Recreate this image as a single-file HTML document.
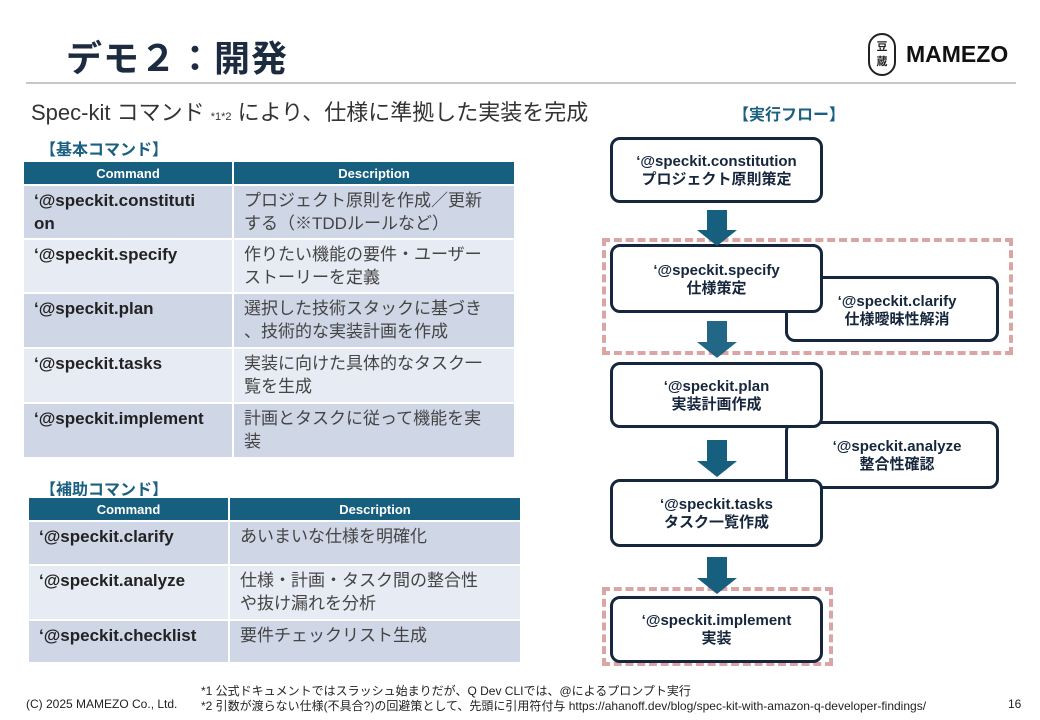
<!DOCTYPE html>
<html><head><meta charset="utf-8"><style>
*{margin:0;padding:0;box-sizing:border-box}
body{width:1040px;height:720px;background:#fff;position:relative;overflow:hidden;font-family:"Liberation Sans","Noto Sans CJK JP",sans-serif;color:#222}
.a{position:absolute}
.title{left:66px;top:30px;font-size:36px;font-weight:bold;color:#1c2b40;letter-spacing:1px}
.hr{left:26px;top:82px;width:990px;height:2px;background:#c8c8c8}
.sub{left:31px;top:95px;font-size:22px;color:#333}
.sec{font-size:16px;font-weight:bold;color:#1a6080}
table{position:absolute;border-collapse:collapse;font-size:17px}
th{background:#175f7f;color:#fff;font-size:13px;font-weight:bold;height:24px;border:2px solid #fff}
td{border:2px solid #fff;vertical-align:top;padding:3px 8px 0 10px;line-height:23px}
td.c{font-weight:bold;color:#222}
td.d{color:#444;padding-right:2px;white-space:nowrap}
tr.o td{background:#cfd6e6}
tr.e td{background:#e7ebf3}
.box{position:absolute;border:3px solid #16263c;border-radius:10px;background:#fff;text-align:center;font-size:15px;font-weight:bold;color:#16263c;line-height:18px}
.dash{position:absolute;border:4px dashed #dca5a5}
.ft{font-size:12px;color:#222}
</style></head><body>
<div class="a title">デモ２：開発</div>
<div class="a" style="left:868px;top:33px;width:28px;height:43px;border:2px solid #222;border-radius:14px;font-size:11px;font-weight:bold;line-height:15px;text-align:center;padding-top:5px">豆<br>蔵</div>
<div class="a" style="left:906px;top:41px;font-size:23px;font-weight:bold;color:#111">MAMEZO</div>
<div class="a hr"></div>
<div class="a sub">Spec-kit コマンド <span style="font-size:11px">*1*2</span> により、仕様に準拠した実装を完成</div>
<div class="a sec" style="left:733px;top:101px">【実行フロー】</div>
<div class="a sec" style="left:40px;top:136px">【基本コマンド】</div>
<table style="left:22px;top:160px;width:494px">
<tr><th style="width:210px">Command</th><th>Description</th></tr>
<tr class="o" style="height:54px"><td class="c">‘@speckit.constituti<br>on</td><td class="d">プロジェクト原則を作成／更新<br>する（※TDDルールなど）</td></tr>
<tr class="e" style="height:54px"><td class="c">‘@speckit.specify</td><td class="d">作りたい機能の要件・ユーザー<br>ストーリーを定義</td></tr>
<tr class="o" style="height:55px"><td class="c">‘@speckit.plan</td><td class="d">選択した技術スタックに基づき<br>、技術的な実装計画を作成</td></tr>
<tr class="e" style="height:55px"><td class="c">‘@speckit.tasks</td><td class="d">実装に向けた具体的なタスク一<br>覧を生成</td></tr>
<tr class="o" style="height:55px"><td class="c">‘@speckit.implement</td><td class="d">計画とタスクに従って機能を実<br>装</td></tr>
</table>
<div class="a sec" style="left:40px;top:476px">【補助コマンド】</div>
<table style="left:27px;top:496px;width:495px">
<tr><th style="width:201px">Command</th><th>Description</th></tr>
<tr class="o" style="height:44px"><td class="c">‘@speckit.clarify</td><td class="d">あいまいな仕様を明確化</td></tr>
<tr class="e" style="height:55px"><td class="c">‘@speckit.analyze</td><td class="d">仕様・計画・タスク間の整合性<br>や抜け漏れを分析</td></tr>
<tr class="o" style="height:43px"><td class="c">‘@speckit.checklist</td><td class="d">要件チェックリスト生成</td></tr>
</table>

<div class="dash" style="left:602px;top:238px;width:411px;height:117px"></div>
<div class="dash" style="left:602px;top:587px;width:231px;height:79px"></div>

<div class="box" style="left:785px;top:276px;width:214px;height:66px;padding-top:14px;padding-left:10px">‘@speckit.clarify<br>仕様曖昧性解消</div>
<div class="box" style="left:785px;top:421px;width:214px;height:68px;padding-top:14px;padding-left:10px">‘@speckit.analyze<br>整合性確認</div>

<div class="box" style="left:610px;top:137px;width:213px;height:66px;padding-top:13px">‘@speckit.constitution<br>プロジェクト原則策定</div>
<div class="box" style="left:610px;top:244px;width:213px;height:69px;padding-top:15px">‘@speckit.specify<br>仕様策定</div>
<div class="box" style="left:610px;top:362px;width:213px;height:66px;padding-top:13px">‘@speckit.plan<br>実装計画作成</div>
<div class="box" style="left:610px;top:479px;width:213px;height:68px;padding-top:14px">‘@speckit.tasks<br>タスク一覧作成</div>
<div class="box" style="left:610px;top:596px;width:213px;height:67px;padding-top:13px">‘@speckit.implement<br>実装</div>

<svg class="a" style="left:0;top:0" width="1040" height="720">
<g fill="#175f7f">
<polygon points="707,210 727,210 727,230 737,230 717,246 697,230 707,230"/>
<polygon points="707,321 727,321 727,342 737,342 717,358 697,342 707,342" opacity="0.95"/>
<polygon points="707,440 727,440 727,461 737,461 717,477 697,461 707,461"/>
<polygon points="707,557 727,557 727,578 737,578 717,594 697,578 707,578"/>
</g>
</svg>

<div class="a ft" style="left:201px;top:682px">*1 公式ドキュメントではスラッシュ始まりだが、Q Dev CLIでは、@によるプロンプト実行</div>
<div class="a ft" style="left:26px;top:697px">(C) 2025 MAMEZO Co., Ltd.</div>
<div class="a ft" style="left:201px;top:697px">*2 引数が渡らない仕様(不具合?)の回避策として、先頭に引用符付与 https://ahanoff.dev/blog/spec-kit-with-amazon-q-developer-findings/</div>
<div class="a ft" style="left:1008px;top:697px">16</div>
</body></html>
